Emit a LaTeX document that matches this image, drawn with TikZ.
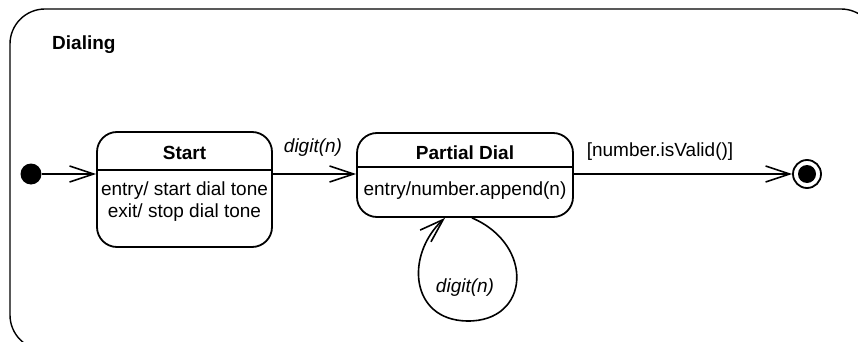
\documentclass[tikz,border=0pt]{standalone}
\usepackage{fontspec}
\setmainfont{Liberation Sans}
\usetikzlibrary{arrows.meta,positioning,calc}

\begin{document}
\begin{tikzpicture}[x=1pt,y=-1pt]
\tikzset{
    state/.style={draw, line width=1.8pt, rounded corners=20pt, inner sep=0pt},
    trans/.style={line width=1.6pt,
        -{Straight Barb[length=24pt,width=16pt,line width=1.6pt]}},
    txt/.style={font=\fontsize{19}{22}\selectfont, inner sep=0pt},
    title/.style={txt, font=\fontsize{19}{22}\selectfont\bfseries},
    evt/.style={txt, font=\fontsize{19}{22}\selectfont\itshape}
}

\useasboundingbox (0,0) rectangle (858,342);
\clip (0,0) rectangle (858,342);
\draw [line width=1.4pt, rounded corners=35pt] (10,9) rectangle (876,350);

\node [title, anchor=west] (dialing) at (52,45) {Dialing};

\node [circle, fill, inner sep=0pt, minimum size=21pt] (init) at (31,174) {};

\node [state, minimum width=175pt, minimum height=115pt] (start) at (184.5,189.5) {};
\draw [line width=1.8pt] (start.west |- 0,170) -- (start.east |- 0,170);
\node [title] (starttitle) at (184.5,153) {Start};
\node [txt] (startentry) at (184.5,191) {entry/ start dial tone};
\node [txt] (startexit) at (184.5,213) {exit/ stop dial tone};

\node [state, minimum width=216pt, minimum height=84pt] (partial) at (465,175) {};
\draw [line width=1.8pt] (partial.west |- 0,167) -- (partial.east |- 0,167);
\node [title] (partialtitle) at (465,153) {Partial Dial};
\node [txt] (partialentry) at (465,191) {entry/number.append(n)};

\node [circle, draw, line width=1.8pt, inner sep=0pt, minimum size=28pt] (final) at (807,174) {};
\fill (final) circle (9pt);

\coordinate (loopbot) at (467,321);

\draw [trans] (init) -- (init -| start.west);
\draw [trans] (start.east |- init) -- (partial.west |- init);
\draw [trans] (partial.east |- final) -- (final);
\draw [trans] ([xshift=7pt]partial.south) .. controls (535,245) and (530,322) .. (loopbot)
    .. controls (410,320) and (405,255) .. ([xshift=-20pt]partial.south);

\node [evt] (digitone) at (313,148) {digit(n)};
\node [txt] (guard) at (660,152) {[number.isValid()]};
\node [evt] (digittwo) at (465,288) {digit(n)};
\end{tikzpicture}
\end{document}
